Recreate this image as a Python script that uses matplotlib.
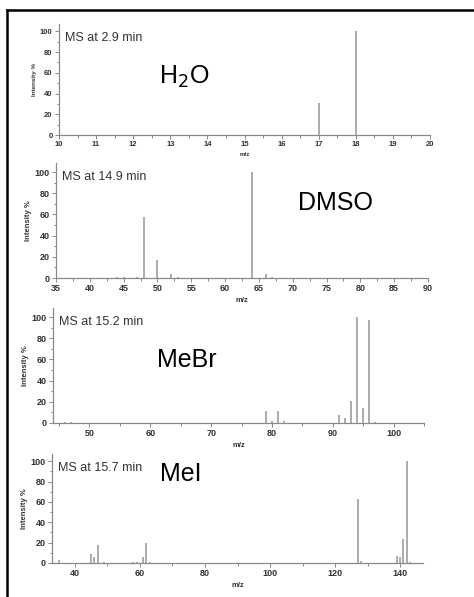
import matplotlib
matplotlib.use("Agg")
import matplotlib.pyplot as plt
from matplotlib.lines import Line2D
from matplotlib.ticker import MultipleLocator

plt.rcParams['font.family'] = ['Liberation Sans', 'DejaVu Sans']

# spectra: m/z and relative intensity (%)
h2o_mz = [17, 18]
h2o_int = [31, 100]

dmso_mz = [44, 45, 47, 48, 50, 52, 53, 64, 66, 67]
dmso_int = [0.5, 0.5, 1, 58, 17, 4, 1, 100, 4, 1]

mebr_mz = [46, 47, 79, 80, 81, 82, 91, 92, 93, 94, 95, 96, 97]
mebr_int = [0.5, 1, 11, 2, 11, 2, 8, 5, 21, 100, 14, 97, 1]

mei_mz = [35, 45, 46, 47, 49, 58, 59, 61, 62, 63, 127, 128, 139, 140, 141, 142, 143]
mei_int = [3, 9, 6, 18, 1, 0.5, 0.5, 6, 20, 1, 63, 2, 7, 6, 24, 100, 1]

titles = ["MS at 2.9 min", "MS at 14.9 min", "MS at 15.2 min", "MS at 15.7 min"]
names = ["H$_2$O", "DMSO", "MeBr", "MeI"]

W, H = 474, 597
fig = plt.figure(figsize=(W / 100, H / 100), dpi=100)


def px_axes(left, right, bottom, top):
    return fig.add_axes([left / W, 1 - bottom / H, (right - left) / W, (bottom - top) / H])


panels = [
    # (pixel box, xlim, ymax, major x, minor x, label size, data, name pos)
    ((59, 430, 135, 24), (10, 20), 107, 1, 0.5, 5.5, (h2o_mz, h2o_int), (0.27, 0.52)),
    ((56, 428, 278, 163), (35, 90), 108.5, 5, 2.5, 6.5, (dmso_mz, dmso_int), (0.65, 0.65)),
    ((53, 424, 423, 308), (44, 105), 108.5, 10, 5, 6.5, (mebr_mz, mebr_int), (0.28, 0.55)),
    ((52, 423, 563, 454), (33, 147), 107, 20, 10, 6.5, (mei_mz, mei_int), (0.29, 0.82)),
]

gray = "#8a8a8a"
for i, (box, xlim, ymax, xmaj, xmin, lsize, (mz, inten), npos) in enumerate(panels):
    ax = px_axes(*box)
    ax.vlines(mz, 0, inten, color="#a6a6a6", linewidth=1.3)
    ax.set_xlim(*xlim)
    ax.set_ylim(0, ymax)
    for s in ["top", "right"]:
        ax.spines[s].set_visible(False)
    for s in ["left", "bottom"]:
        ax.spines[s].set_color(gray)
        ax.spines[s].set_linewidth(0.9)
    ax.xaxis.set_major_locator(MultipleLocator(xmaj))
    ax.xaxis.set_minor_locator(MultipleLocator(xmin))
    ax.yaxis.set_major_locator(MultipleLocator(20))
    ax.yaxis.set_minor_locator(MultipleLocator(10))
    ax.tick_params(which="both", colors=gray, labelcolor="#333333", labelsize=lsize,
                   width=0.7, pad=1.5)
    ax.tick_params(which="major", length=3)
    ax.tick_params(which="minor", length=1.8)
    for lab in ax.get_xticklabels() + ax.get_yticklabels():
        lab.set_fontweight("bold")
    ax.set_xlabel("m/z", fontsize=lsize - 1, color="#333333", labelpad=3, fontweight="bold")
    ax.set_ylabel("Intensity %", fontsize=lsize - 1, color="#333333", labelpad=2,
                  fontweight="bold")
    ax.text(0.015, 0.93, titles[i], transform=ax.transAxes, fontsize=9,
            color="#333333", va="top", ha="left")
    ax.text(npos[0], npos[1], names[i], transform=ax.transAxes, fontsize=18,
            color="black", va="center", ha="left")

# black frame on top and left edges
fig.add_artist(Line2D([7 / W, 1], [1 - 9.5 / H, 1 - 9.5 / H], color="black", linewidth=1.8,
                      transform=fig.transFigure))
fig.add_artist(Line2D([7 / W, 7 / W], [0, 1 - 9.5 / H], color="black", linewidth=1.8,
                      transform=fig.transFigure))

fig.savefig("out.png", dpi=100)
